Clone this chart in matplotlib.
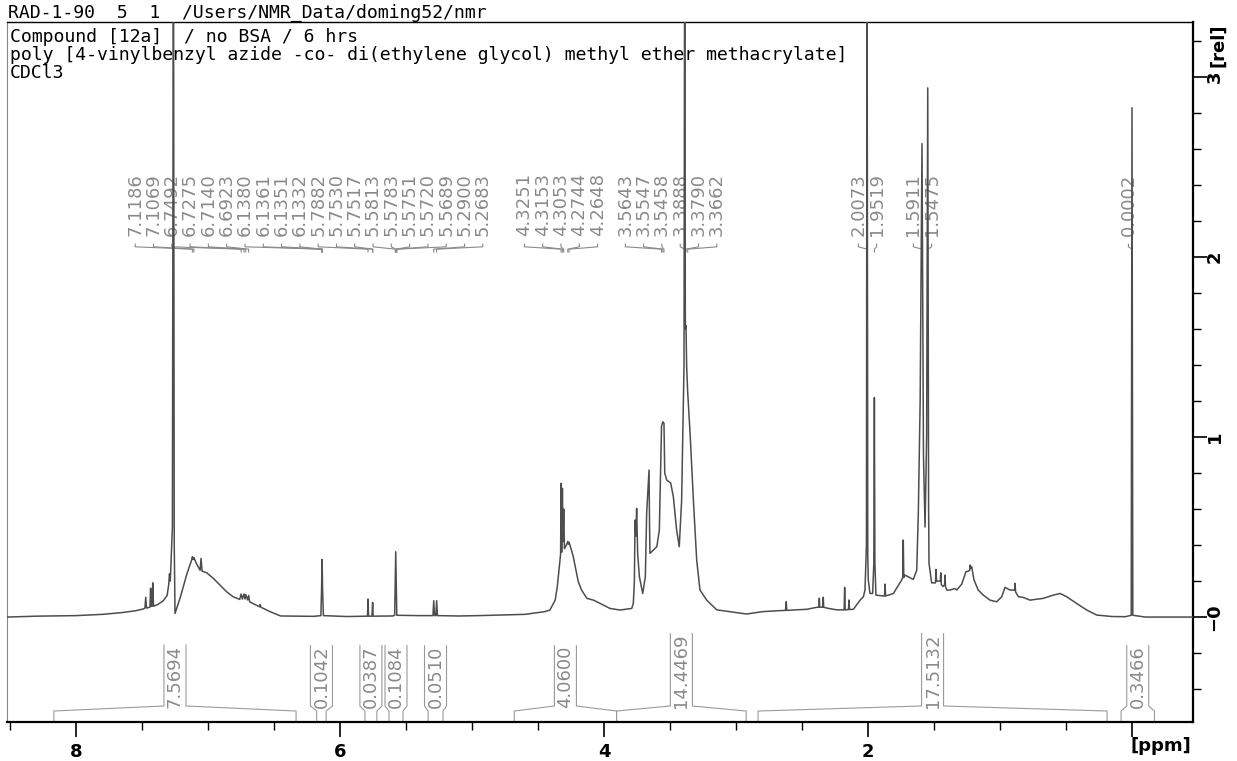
"""
1H NMR spectrum of RAD-1-90 redrawn in the TopSpin print style.
"""
import matplotlib.pyplot as plt
from matplotlib.ticker import FixedLocator, MultipleLocator

# ---- spectrum trace (ppm, relative intensity), high -> low ppm
arom_ppm = [8.52, 8.30, 8.00, 7.80, 7.65, 7.55, 7.49, 7.478, 7.472, 7.466, 7.44, 7.435,
            7.43, 7.424, 7.419, 7.413, 7.38, 7.34, 7.31, 7.298, 7.292, 7.286, 7.27,
            7.262, 7.256, 7.250, 7.21, 7.16, 7.125, 7.1186, 7.112, 7.1069, 7.09, 7.06,
            7.053, 7.045, 7.01, 6.96, 6.91, 6.86, 6.81, 6.76, 6.7492, 6.74, 6.7275,
            6.72, 6.714, 6.70, 6.6923, 6.685, 6.61, 6.605, 6.60, 6.53, 6.45, 6.30]
arom_int = [0.0, 0.005, 0.008, 0.015, 0.025, 0.035, 0.045, 0.05, 0.11, 0.05, 0.055, 0.16,
            0.06, 0.06, 0.19, 0.06, 0.07, 0.09, 0.12, 0.18, 0.24, 0.2, 0.5,
            4.0, 0.4, 0.02, 0.11, 0.24, 0.315, 0.335, 0.32, 0.33, 0.30, 0.26,
            0.326, 0.255, 0.246, 0.215, 0.178, 0.141, 0.113, 0.098, 0.128, 0.10, 0.128,
            0.10, 0.125, 0.095, 0.12, 0.085, 0.057, 0.07, 0.055, 0.03, 0.006, 0.005]

vinyl_ppm = [6.20, 6.145, 6.140, 6.136, 6.132, 6.126, 5.95, 5.80, 5.792, 5.788, 5.784,
             5.758, 5.753, 5.749, 5.60, 5.586, 5.578, 5.570, 5.40, 5.296, 5.290, 5.284,
             5.274, 5.268, 5.262, 5.10, 4.95]
vinyl_int = [0.004, 0.008, 0.15, 0.32, 0.15, 0.008, 0.003, 0.005, 0.005, 0.10, 0.005,
             0.005, 0.081, 0.005, 0.006, 0.01, 0.363, 0.01, 0.008, 0.008, 0.091, 0.008,
             0.008, 0.091, 0.008, 0.006, 0.008]

ether_ppm = [4.79, 4.60, 4.45, 4.41, 4.37, 4.354, 4.339, 4.329, 4.3251, 4.321, 4.3153,
             4.311, 4.3053, 4.30, 4.285, 4.2744, 4.27, 4.2648, 4.25, 4.233, 4.195, 4.17,
             4.13, 4.08, 4.03, 3.955, 3.88, 3.79, 3.778, 3.770, 3.765, 3.759, 3.753,
             3.745, 3.732, 3.707, 3.687, 3.677, 3.669, 3.659, 3.655, 3.652, 3.627, 3.60,
             3.581, 3.5643, 3.5547, 3.5458, 3.54, 3.525, 3.495, 3.475, 3.45, 3.43, 3.412,
             3.404, 3.394, 3.3888, 3.384, 3.379, 3.374, 3.3662, 3.348, 3.323, 3.298,
             3.273, 3.222, 3.146]
ether_int = [0.011, 0.015, 0.03, 0.039, 0.094, 0.169, 0.28, 0.35, 0.743, 0.36, 0.715,
             0.42, 0.60, 0.38, 0.40, 0.42, 0.405, 0.415, 0.38, 0.335, 0.196, 0.15,
             0.104, 0.094, 0.076, 0.048, 0.039, 0.048, 0.076, 0.2, 0.539, 0.45, 0.604,
             0.35, 0.224, 0.131, 0.224, 0.576, 0.687, 0.817, 0.5, 0.354, 0.372, 0.391,
             0.483, 1.06, 1.085, 1.076, 0.80, 0.761, 0.745, 0.669, 0.483, 0.391, 0.65,
             0.983, 1.4, 4.0, 1.6, 1.62, 1.391, 1.25, 1.02, 0.65, 0.317,
             0.15, 0.094, 0.04]

aliph_ppm = [3.05, 2.92, 2.80, 2.69, 2.625, 2.620, 2.615, 2.55, 2.465, 2.39, 2.372,
             2.369, 2.366, 2.342, 2.339, 2.336, 2.313, 2.237, 2.181, 2.177, 2.173, 2.148,
             2.144, 2.140, 2.111, 2.06, 2.035, 2.023, 2.012, 2.0073, 2.002, 1.998, 1.985,
             1.965, 1.956, 1.9519, 1.948, 1.940, 1.884, 1.875, 1.871, 1.867, 1.808,
             1.745, 1.737, 1.733, 1.729, 1.72, 1.657, 1.631, 1.619, 1.605, 1.5911, 1.580,
             1.568, 1.556, 1.5475, 1.541, 1.538, 1.518, 1.489, 1.485, 1.481, 1.468,
             1.452, 1.449, 1.445, 1.43, 1.42, 1.417, 1.413, 1.404, 1.379, 1.341, 1.328,
             1.29, 1.258, 1.24, 1.23, 1.227, 1.222, 1.215, 1.197, 1.165, 1.127, 1.076,
             1.025, 0.987, 0.962, 0.924, 0.89, 0.886, 0.882, 0.861, 0.823, 0.773, 0.672,
             0.596, 0.545, 0.495, 0.42, 0.343, 0.267, 0.15, 0.05, 0.006, 0.0002, -0.006,
             -0.10, -0.46]
aliph_int = [0.03, 0.017, 0.03, 0.035, 0.037, 0.085, 0.037, 0.04, 0.043, 0.054, 0.055,
             0.105, 0.055, 0.055, 0.11, 0.055, 0.05, 0.04, 0.04, 0.165, 0.04, 0.042,
             0.095, 0.042, 0.043, 0.094, 0.113, 0.15, 0.4, 4.0, 0.35, 0.206, 0.131,
             0.131, 0.3, 1.22, 0.3, 0.122, 0.117, 0.117, 0.183, 0.117, 0.131,
             0.206, 0.22, 0.428, 0.22, 0.233, 0.209, 0.261, 0.576, 1.2, 2.63, 0.9,
             0.5, 1.0, 2.94, 0.6, 0.3, 0.19, 0.19, 0.265, 0.2, 0.2,
             0.2, 0.246, 0.18, 0.17, 0.18, 0.233, 0.17, 0.15, 0.15, 0.159, 0.15,
             0.183, 0.252, 0.255, 0.26, 0.289, 0.27, 0.28, 0.206, 0.15, 0.122, 0.094,
             0.085, 0.113, 0.165, 0.15, 0.15, 0.187, 0.14, 0.113, 0.109, 0.094, 0.104,
             0.122, 0.131, 0.113, 0.076, 0.039, 0.011, 0.003, 0.002, 0.01, 2.83, 0.01,
             0.0, 0.0]

# ---- peak picking, grouped as printed
peak_groups = [
    [7.1186, 7.1069, 6.7492, 6.7275, 6.7140, 6.6923, 6.1380, 6.1361, 6.1351, 6.1332,
     5.7882, 5.7530, 5.7517, 5.5813, 5.5783, 5.5751, 5.5720, 5.5689, 5.2900, 5.2683],
    [4.3251, 4.3153, 4.3053, 4.2744, 4.2648],
    [3.5643, 3.5547, 3.5458, 3.3888, 3.3790, 3.3662],
    [2.0073, 1.9519],
    [1.5911, 1.5475],
    [0.0002],
]

# ---- integrals
int_start = [8.168, 6.177, 5.811, 5.629, 5.333, 4.680, 3.905, 2.833, 0.083]
int_end = [6.333, 6.105, 5.721, 5.523, 5.220, 3.905, 2.923, 0.189, -0.170]
int_value = ["7.5694", "0.1042", "0.0387", "0.1084", "0.0510", "4.0600", "14.4469",
             "17.5132", "0.3466"]

# ---- layout
W, H = 1237, 761
GREY = "#8a8a8a"
LINE = "#4d4d4d"
label_centres = [6.235, 4.326, 3.492, 2.004, 1.587, 0.027]   # ppm, centre of each label block
LABEL_STEP = 0.1386                                          # ppm between picked labels
MONO = "DejaVu Sans Mono"

fig = plt.figure(figsize=(W / 100, H / 100), dpi=100)
ax = fig.add_axes([7 / W, 39 / H, 1186 / W, 700 / H])
ax.set_xlim(8.523, -0.462)
ax.set_ylim(-0.583, 3.306)

ppm = arom_ppm + vinyl_ppm + ether_ppm + aliph_ppm
inten = arom_int + vinyl_int + ether_int + aliph_int
ax.plot(ppm, inten, color=LINE, lw=1.1, zorder=3)

# peak labels with their little connectors
for peaks, xc in zip(peak_groups, label_centres):
    n = len(peaks)
    for i, p in enumerate(peaks):
        xl = xc + (n - 1) / 2 * LABEL_STEP - i * LABEL_STEP
        ax.text(xl, 2.117, f"{p:.4f}", rotation=90, ha="center", va="bottom",
                color=GREY, fontsize=13, zorder=2)
        ax.plot([xl, xl, p, p], [2.072, 2.057, 2.044, 2.028], color=GREY, lw=0.8, zorder=2)

# integral labels
int_texts = []
for a, b, val in zip(int_start, int_end, int_value):
    xc = (a + b) / 2
    t = ax.text(xc, -0.506, val, rotation=90, ha="center", va="bottom",
                color=GREY, fontsize=13, zorder=2)
    int_texts.append(t)

fig.canvas.draw()
renderer = fig.canvas.get_renderer()
half = 11 / 132
for a, b, t in zip(int_start, int_end, int_texts):
    xc = (a + b) / 2
    bb = t.get_window_extent(renderer)
    top = ax.transData.inverted().transform((0, bb.y1))[1]
    ax.plot([a, a, xc + half, xc + half], [-0.583, -0.522, -0.494, top],
            color="#9a9a9a", lw=0.8, zorder=2)
    ax.plot([b, b, xc - half, xc - half], [-0.583, -0.522, -0.494, top],
            color="#9a9a9a", lw=0.8, zorder=2)

# title block
ax.text(10 / W, 1 - 37 / H, "Compound [12a]  / no BSA / 6 hrs", transform=fig.transFigure,
        family=MONO, fontsize=13.1, va="center", zorder=1)
ax.text(10 / W, 1 - 55 / H,
        "poly [4-vinylbenzyl azide -co- di(ethylene glycol) methyl ether methacrylate]",
        transform=fig.transFigure, family=MONO, fontsize=13.1, va="center", zorder=1)
ax.text(10 / W, 1 - 73 / H, "CDCl3", transform=fig.transFigure,
        family=MONO, fontsize=13.1, va="center", zorder=1)
fig.text(8 / W, 1 - 13 / H, "RAD-1-90  5  1  /Users/NMR_Data/doming52/nmr",
         family=MONO, fontsize=13.1, va="center")

# axes
ax.xaxis.set_major_locator(FixedLocator([8, 6, 4, 2, 0]))
ax.set_xticklabels(["8", "6", "4", "2", ""])
ax.xaxis.set_minor_locator(MultipleLocator(0.5))
ax.tick_params(axis="x", which="major", length=11, width=1.2, pad=4, labelsize=13)
ax.tick_params(axis="x", which="minor", length=6, width=1.0)

ax.yaxis.tick_right()
ax.yaxis.set_major_locator(FixedLocator([0, 1, 2, 3]))
ax.set_yticklabels(["\u22120", "1", "2", "3"])
ax.yaxis.set_minor_locator(MultipleLocator(0.2))
ax.tick_params(axis="y", which="major", length=10, width=1.2, pad=-1,
               labelsize=13, labelrotation=90)
ax.tick_params(axis="y", which="minor", length=6, width=1.0)
for lab in ax.get_xticklabels() + ax.get_yticklabels():
    lab.set_fontweight("bold")
for lab in ax.get_yticklabels():
    lab.set_va("center")

ax.spines["left"].set_color("#888888")
ax.spines["left"].set_linewidth(0.8)
ax.spines["top"].set_linewidth(1.0)
ax.spines["right"].set_linewidth(1.6)
ax.spines["bottom"].set_linewidth(1.6)

fig.text(1161 / W, 1 - 746 / H, "[ppm]", fontsize=13, fontweight="bold",
         ha="center", va="center")
fig.text(1218 / W, 1 - 45 / H, "[rel]", fontsize=13, fontweight="bold",
         rotation=90, ha="center", va="center")

fig.savefig("out.png", dpi=100)
